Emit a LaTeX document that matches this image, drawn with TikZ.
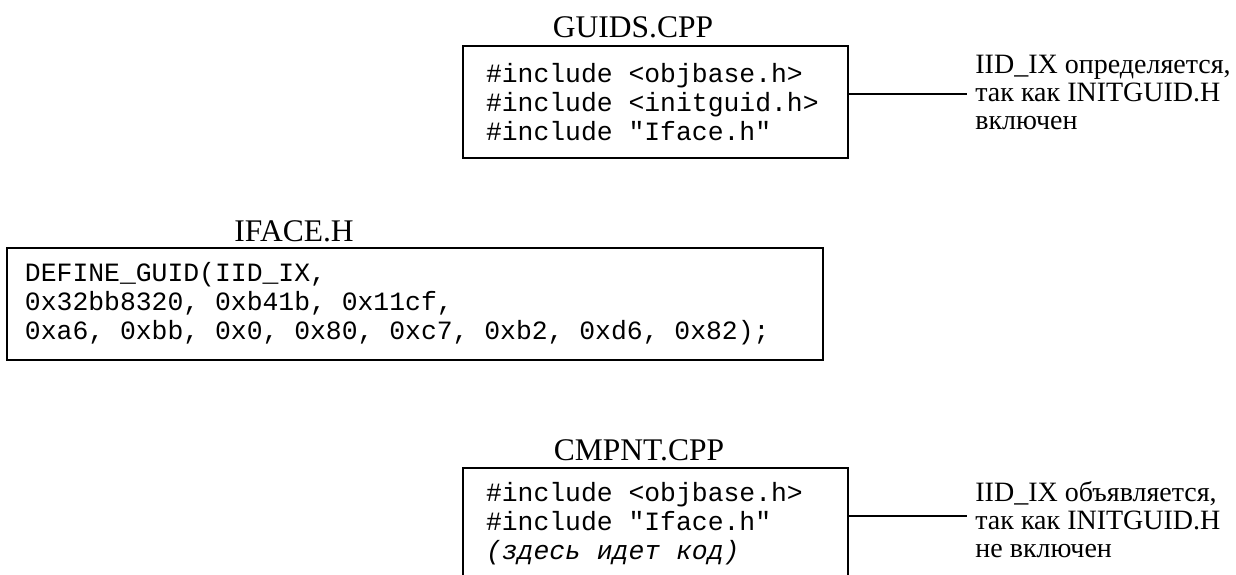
\documentclass[tikz,border=0pt]{standalone}
\usepackage{fontspec}
\setmainfont{Liberation Serif}
\setmonofont{Liberation Mono}
\usepackage{tikz}
\usetikzlibrary{positioning, calc}
\tikzset{
    codebox/.style ={draw=black, line width=1pt, fill=white,
                     minimum height=56pt, inner xsep=11.5pt, inner ysep=2pt,
                     align=left, font=\codefont, anchor=center},
    fname/.style   ={font=\fontsize{15.75}{17}\selectfont, inner sep=0pt, anchor=base},
    note/.style    ={font=\fontsize{14}{14}\selectfont, align=left,
                     inner xsep=4pt, inner ysep=1pt, anchor=west},
    link/.style    ={draw=black, line width=0.9pt}
}
\newcommand{\codefont}{\ttfamily\fontsize{13.2}{14.5}\selectfont}
% one monospace cell of blank
\newcommand{\codesp}{\hspace*{0.6em}}

\begin{document}
\begin{tikzpicture}[x=0.5pt, y=-0.5pt]
  \useasboundingbox (0,0) rectangle (1236,574);
  \clip (0,0) rectangle (1236,574);

  % guids.cpp
  \node[fname] (guidsname) at (633,37) {GUIDS.CPP};
  \node[codebox, text width=169.5pt] (guids) at (655.5,102)
    {\#include\codesp<objbase.h>\\
     \#include\codesp<initguid.h>\\
     \#include\codesp"Iface.h"};
  \node[note] (defnote) at (967,92)
    {IID\_IX определяется,\\ так как INITGUID.H\\ включен};
  \draw[link] ([yshift=4pt]guids.east) -- ([yshift=4pt]guids.east -| defnote.west);

  % iface.h
  \node[fname] (ifacename) at (294,241) {IFACE.H};
  \node[codebox, inner xsep=9pt, text width=390pt] (iface) at (415,304)
    {DEFINE\_GUID(IID\_IX,\\
     0x32bb8320,\codesp0xb41b,\codesp0x11cf,\\
     0xa6,\codesp0xbb,\codesp0x0,\codesp0x80,\codesp0xc7,\codesp0xb2,\codesp0xd6,\codesp0x82);};

  % cmpnt.cpp (runs off the bottom)
  \node[fname] (cmpntname) at (639,460) {CMPNT.CPP};
  \node[codebox, text width=169.5pt] (cmpnt) at (655.5,524)
    {\#include\codesp<objbase.h>\\
     \#include\codesp"Iface.h"\\
     \textit{(здесь\codesp идет\codesp код)}};
  \node[note] (declnote) at (967,520)
    {IID\_IX объявляется,\\ так как INITGUID.H\\ не включен};
  \draw[link] ([yshift=4pt]cmpnt.east) -- ([yshift=4pt]cmpnt.east -| declnote.west);
\end{tikzpicture}
\end{document}
